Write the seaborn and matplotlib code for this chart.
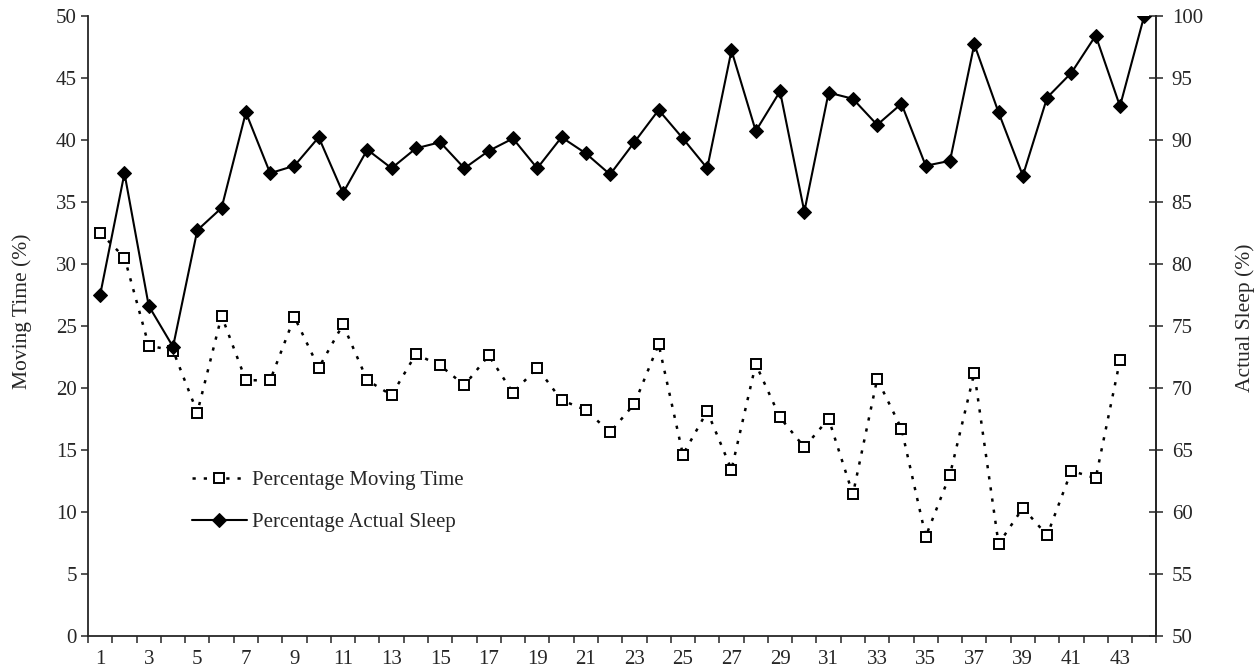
import numpy as np
import pandas as pd
import matplotlib
matplotlib.use("Agg")
import matplotlib.pyplot as plt
import seaborn as sns

# Nightly recordings (night index)
nights_moving = list(range(1, 44))
nights_sleep = list(range(1, 45))

# Percentage of time spent moving (left axis)
moving_time = [32.5, 30.5, 23.4, 23.0, 18.0, 25.8, 20.6, 20.6, 25.7, 21.6,
               25.1, 20.6, 19.4, 22.7, 21.8, 20.2, 22.6, 19.6, 21.6, 19.0,
               18.2, 16.4, 18.7, 23.5, 14.6, 18.1, 13.4, 21.9, 17.6, 15.2,
               17.5, 11.4, 20.7, 16.7, 8.0, 13.0, 21.2, 7.4, 10.3, 8.1,
               13.3, 12.7, 22.2]

# Percentage of actual sleep (right axis)
actual_sleep = [77.5, 87.3, 76.6, 73.3, 82.7, 84.5, 92.2, 87.3, 87.9, 90.2,
                85.7, 89.2, 87.7, 89.3, 89.8, 87.7, 89.1, 90.1, 87.7, 90.2,
                88.9, 87.2, 89.8, 92.4, 90.1, 87.7, 97.2, 90.7, 93.9, 84.2,
                93.8, 93.3, 91.2, 92.9, 87.9, 88.3, 97.7, 92.2, 87.1, 93.4,
                95.4, 98.4, 92.7, 100.0]

left_ticks = [0, 5, 10, 15, 20, 25, 30, 35, 40, 45, 50]
right_ticks = [50, 55, 60, 65, 70, 75, 80, 85, 90, 95, 100]
x_labels = list(range(1, 44, 2))

df_moving = pd.DataFrame({"night": nights_moving, "value": moving_time})
df_sleep = pd.DataFrame({"night": nights_sleep, "value": actual_sleep})

sns.set_style("ticks")
plt.rcParams["font.family"] = ["Liberation Serif", "DejaVu Serif"]
plt.rcParams["axes.linewidth"] = 1.3

FS = 15

fig = plt.figure(figsize=(12.56, 6.72), dpi=100)
ax = fig.add_axes([0.0701, 0.054, 0.8506, 0.9226])
ax2 = ax.twinx()

sns.lineplot(data=df_moving, x="night", y="value", ax=ax, color="black",
             marker="s", markersize=7.5, markerfacecolor="white",
             markeredgecolor="black", markeredgewidth=1.4,
             linestyle=(0, (1.3, 3.2)), linewidth=1.8,
             label="Percentage Moving Time", legend=False)
sns.lineplot(data=df_sleep, x="night", y="value", ax=ax2, color="black",
             marker="D", markersize=7, markerfacecolor="black",
             markeredgecolor="black", linewidth=1.5,
             label="Percentage Actual Sleep", legend=False)

ax.set_xlim(0.5, 44.5)
ax.set_ylim(0, 50)
ax2.set_ylim(50, 100)

ax.set_yticks(left_ticks)
ax2.set_yticks(right_ticks)
ax.set_xticks(x_labels)
ax.set_xticklabels([str(v) for v in x_labels])
ax.set_xticks(np.arange(0.5, 45.0, 1.0), minor=True)

ax.tick_params(axis="x", which="major", length=0, pad=10, labelsize=FS)
ax.tick_params(axis="x", which="minor", length=5, width=1.1, direction="out")
ax.tick_params(axis="y", length=5, width=1.1, direction="out", pad=3,
               labelsize=FS)
ax2.tick_params(axis="y", length=10, width=1.1, direction="inout", pad=6,
                labelsize=FS)

ax.set_xlabel("")
ax.set_ylabel("Moving Time (%)", fontsize=15.5)
ax2.set_ylabel("Actual Sleep (%)", fontsize=15.5)
ax.yaxis.set_label_coords(-0.052, 0.523)
ax2.yaxis.set_label_coords(1.074, 0.513)

for a in (ax, ax2):
    a.spines["top"].set_visible(False)
    a.grid(False)
ax2.spines["left"].set_visible(False)
ax2.spines["bottom"].set_visible(False)

handles = ax.get_lines()[:1] + ax2.get_lines()[:1]
labels = ["Percentage Moving Time", "Percentage Actual Sleep"]
fig.legend(handles, labels, loc="upper left",
           bbox_to_anchor=(184 / 1256, 1 - 462 / 672), frameon=False,
           fontsize=FS, handlelength=2.6, handletextpad=0.25,
           labelspacing=1.1, borderaxespad=0)

fig.savefig("out.png", dpi=100, facecolor="white")
